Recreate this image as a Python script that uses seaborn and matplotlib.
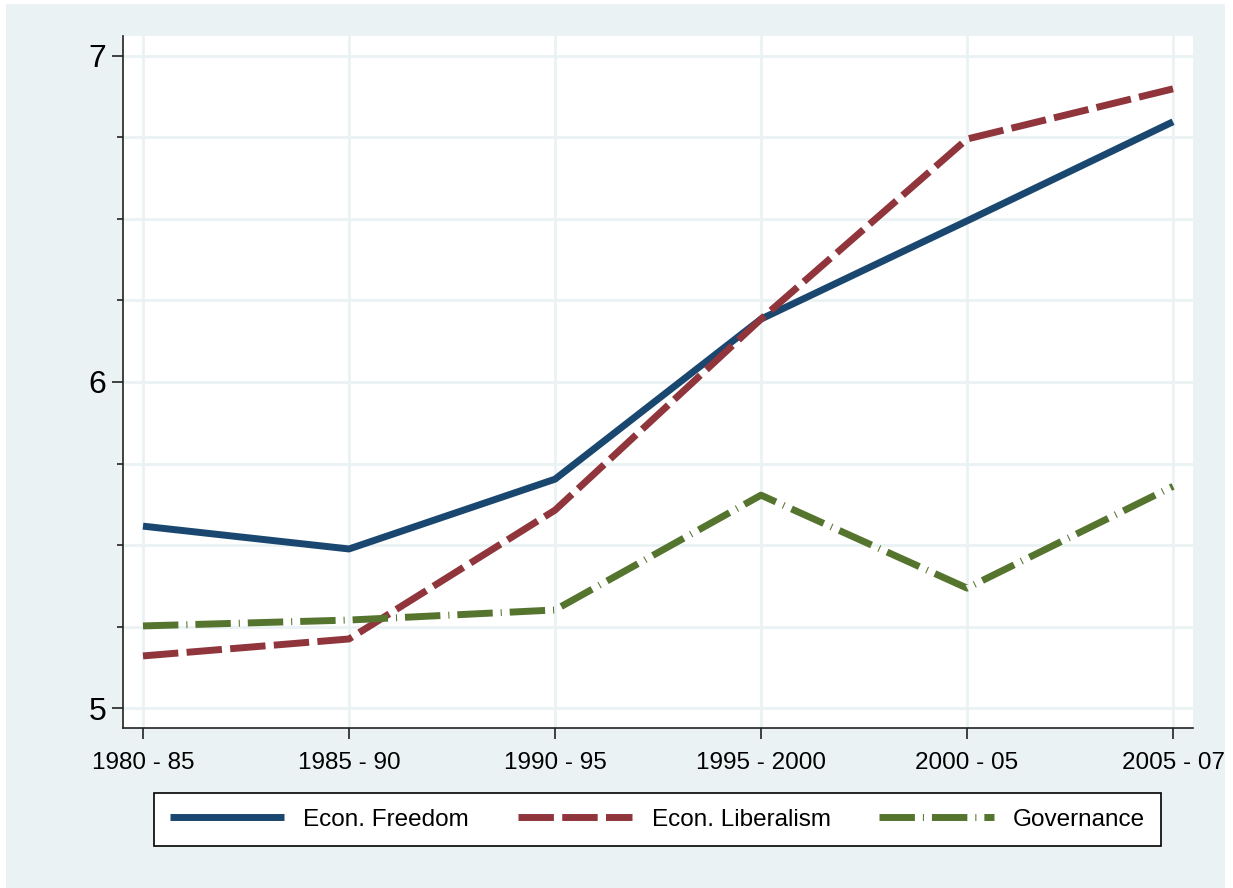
import matplotlib
matplotlib.use("Agg")
import matplotlib.pyplot as plt
import seaborn as sns
import pandas as pd
from matplotlib.patches import Rectangle

periods = ["1980 - 85", "1985 - 90", "1990 - 95", "1995 - 2000", "2000 - 05", "2005 - 07"]
econ_freedom = [5.558, 5.488, 5.702, 6.193, 6.494, 6.798]
econ_liberalism = [5.160, 5.212, 5.607, 6.193, 6.745, 6.899]
governance = [5.252, 5.270, 5.301, 5.653, 5.368, 5.680]
series_names = ["Econ. Freedom", "Econ. Liberalism", "Governance"]
colors = ["#1A476F", "#90353B", "#55752F"]

rows = []
for name, vals in zip(series_names, [econ_freedom, econ_liberalism, governance]):
    for i, (p, v) in enumerate(zip(periods, vals)):
        rows.append({"pos": i, "period": p, "value": v, "series": name})
df = pd.DataFrame(rows)

sns.set_theme(style="white")
plt.rcParams["font.family"] = ["Liberation Sans", "DejaVu Sans"]
plt.rcParams["text.color"] = "black"

W, H = 1233, 888
fig = plt.figure(figsize=(W / 100, H / 100), dpi=100, facecolor="white")
bg = "#EAF2F3"
fig.patches.append(Rectangle((6 / W, 0), (1225 - 6) / W, (884) / H,
                             transform=fig.transFigure, facecolor=bg, edgecolor="none", zorder=-5))

ax = fig.add_axes([123 / W, (H - 728) / H, (1193 - 123) / W, (728 - 36) / H])
ax.set_facecolor("white")

lw = 5.0
sns.lineplot(data=df, x="pos", y="value", hue="series", style="series",
             palette=dict(zip(series_names, colors)),
             dashes={"Econ. Freedom": "", "Econ. Liberalism": (5.1, 1.2),
                     "Governance": (5.1, 1.15, 0.15, 1.15)},
             linewidth=lw, legend=False, ax=ax, zorder=3)
for ln in ax.lines:
    ln.set_dash_capstyle("butt")
    ln.set_solid_capstyle("butt")

ax.set_xlim(-0.097, 5.097)
ax.set_ylim(4.939, 7.061)
ax.set_xticks(range(len(periods)))
ax.set_xticklabels(periods)
ax.set_yticks([5, 6, 7])
ax.set_yticks([5.25, 5.5, 5.75, 6.25, 6.5, 6.75], minor=True)
ax.set_xlabel("")
ax.set_ylabel("")

ax.grid(True, which="both", axis="y", color=bg, linewidth=2.0, zorder=0)
ax.grid(True, which="major", axis="x", color=bg, linewidth=2.0, zorder=0)
ax.set_axisbelow(True)

for s in ["top", "right"]:
    ax.spines[s].set_visible(False)
for s in ["left", "bottom"]:
    ax.spines[s].set_color("#222222")
    ax.spines[s].set_linewidth(1.2)

ax.tick_params(axis="y", which="major", direction="out", length=8, width=1.2,
               color="#222222", labelsize=23, pad=4, left=True, labelcolor="black")
ax.tick_params(axis="y", which="minor", direction="out", length=4.5, width=1.2,
               color="#222222", left=True)
ax.tick_params(axis="x", which="major", direction="out", length=8, width=1.2,
               color="#222222", labelsize=17.5, pad=9, bottom=True, labelcolor="black")

handles = ax.lines[:3]
leg = fig.legend(handles, series_names, ncol=3, mode="expand",
                 bbox_to_anchor=(154 / W, (H - 848) / H, (1161 - 154) / W, 57 / H),
                 loc="center", fontsize=17.5, frameon=True, fancybox=False,
                 edgecolor="black", facecolor="white", framealpha=1,
                 handlelength=4.7, handletextpad=0.8, borderaxespad=0,
                 borderpad=0.65, labelcolor="black")
leg.get_frame().set_linewidth(1.2)
for lh in leg.get_lines():
    lh.set_linewidth(lw)

fig.savefig("out.png", dpi=100, facecolor="white")
